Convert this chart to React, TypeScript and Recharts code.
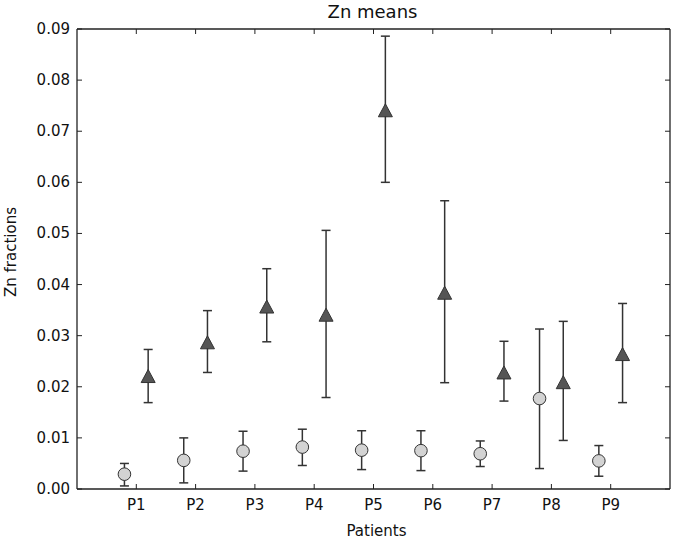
import React from 'react';
import { ScatterChart, Scatter, XAxis, YAxis, ErrorBar } from 'recharts';

const PATIENTS = ['P1', 'P2', 'P3', 'P4', 'P5', 'P6', 'P7', 'P8', 'P9'];
const X_TICKS = [1, 2, 3, 4, 5, 6, 7, 8, 9];
const Y_TICKS = [0, 0.01, 0.02, 0.03, 0.04, 0.05, 0.06, 0.07, 0.08, 0.09];

// light circles (left of each patient)
const circleMeans = [0.0029, 0.0056, 0.0074, 0.0082, 0.0076, 0.0075, 0.0069, 0.0177, 0.0055];
const circleLow = [0.0006, 0.0012, 0.0035, 0.0046, 0.0038, 0.0036, 0.0044, 0.004, 0.0025];
const circleHigh = [0.005, 0.01, 0.0113, 0.0117, 0.0114, 0.0114, 0.0094, 0.0313, 0.0085];

// dark triangles (right of each patient)
const triMeans = [0.0221, 0.0287, 0.0357, 0.0341, 0.0741, 0.0384, 0.0228, 0.0209, 0.0264];
const triLow = [0.0169, 0.0228, 0.0288, 0.0179, 0.06, 0.0208, 0.0172, 0.0095, 0.0169];
const triHigh = [0.0273, 0.0349, 0.0431, 0.0506, 0.0886, 0.0564, 0.0289, 0.0328, 0.0363];

const OFFSET = 0.2;
const FONT = '"DejaVu Sans", sans-serif';
const AXIS = '#222';
const TICK = 5;

const circleData = PATIENTS.map((p, i) => ({
  x: i + 1 - OFFSET,
  y: circleMeans[i],
  err: [circleMeans[i] - circleLow[i], circleHigh[i] - circleMeans[i]],
}));

const triData = PATIENTS.map((p, i) => ({
  x: i + 1 + OFFSET,
  y: triMeans[i],
  err: [triMeans[i] - triLow[i], triHigh[i] - triMeans[i]],
}));

const Circle = (props: any) => (
  <circle cx={props.cx} cy={props.cy} r={6.3} fill="#d3d3d3" stroke="#333" strokeWidth={1} />
);

const Triangle = (props: any) => {
  const { cx, cy } = props;
  const d = `M${cx},${cy - 6.5} L${cx + 7},${cy + 6.5} L${cx - 7},${cy + 6.5} Z`;
  return <path d={d} fill="#555" stroke="#333" strokeWidth={1} />;
};

const BottomTick = ({ x, y, payload }: any) => (
  <g>
    <line x1={x} y1={y} x2={x} y2={y - TICK} stroke={AXIS} strokeWidth={1} />
    <text x={x} y={y + 21} textAnchor="middle" fontSize={15} fontFamily={FONT} fill="#111">
      {PATIENTS[payload.value - 1]}
    </text>
  </g>
);

const LeftTick = ({ x, y, payload }: any) => (
  <g>
    <line x1={x} y1={y} x2={x + TICK} y2={y} stroke={AXIS} strokeWidth={1} />
    <text x={x - 7} y={y + 5} textAnchor="end" fontSize={15} fontFamily={FONT} fill="#111">
      {payload.value.toFixed(2)}
    </text>
  </g>
);

const TopTick = ({ x, y }: any) => (
  <line x1={x} y1={y} x2={x} y2={y + TICK} stroke={AXIS} strokeWidth={1} />
);

const RightTick = ({ x, y }: any) => (
  <line x1={x} y1={y} x2={x - TICK} y2={y} stroke={AXIS} strokeWidth={1} />
);

export default function App() {
  return (
    <div style={{ position: 'absolute', left: 0, top: 0, background: '#fff' }}>
      <ScatterChart width={675} height={540} margin={{ top: 28, right: 4, bottom: 21, left: 7 }}>
        <XAxis
          type="number"
          dataKey="x"
          domain={[0, 10]}
          ticks={X_TICKS}
          allowDataOverflow
          height={30}
          tickSize={0}
          tickMargin={0}
          tickLine={false}
          tick={<BottomTick />}
          axisLine={{ stroke: AXIS, strokeWidth: 1.3 }}
          label={{
            content: ({ viewBox }: any) => (
              <text
                x={viewBox.x + viewBox.width / 2 + 3}
                y={536}
                textAnchor="middle"
                fontSize={15}
                fontFamily={FONT}
                fill="#111"
              >
                Patients
              </text>
            ),
          }}
        />
        <XAxis
          xAxisId="top"
          orientation="top"
          type="number"
          dataKey="x"
          domain={[0, 10]}
          ticks={X_TICKS}
          allowDataOverflow
          height={1}
          tickSize={0}
          tickMargin={0}
          tickLine={false}
          tick={<TopTick />}
          axisLine={{ stroke: AXIS, strokeWidth: 1.3 }}
          label={{
            content: ({ viewBox }: any) => (
              <text
                x={viewBox.x + viewBox.width / 2 - 1}
                y={18}
                textAnchor="middle"
                fontSize={18}
                fontFamily={FONT}
                fill="#111"
              >
                Zn means
              </text>
            ),
          }}
        />
        <YAxis
          type="number"
          dataKey="y"
          domain={[0, 0.09]}
          ticks={Y_TICKS}
          allowDataOverflow
          width={70}
          tickSize={0}
          tickMargin={0}
          tickLine={false}
          tick={<LeftTick />}
          axisLine={{ stroke: AXIS, strokeWidth: 1.3 }}
          label={{
            content: ({ viewBox }: any) => {
              const cx = viewBox.x + 4;
              const cy = viewBox.y + viewBox.height / 2 - 7;
              return (
                <text
                  x={cx}
                  y={cy}
                  transform={`rotate(-90 ${cx} ${cy})`}
                  textAnchor="middle"
                  dominantBaseline="central"
                  fontSize={15}
                  fontFamily={FONT}
                  fill="#111"
                >
                  Zn fractions
                </text>
              );
            },
          }}
        />
        <YAxis
          yAxisId="right"
          orientation="right"
          type="number"
          dataKey="y"
          domain={[0, 0.09]}
          ticks={Y_TICKS}
          allowDataOverflow
          width={1}
          tickSize={0}
          tickMargin={0}
          tickLine={false}
          tick={<RightTick />}
          axisLine={{ stroke: AXIS, strokeWidth: 1.3 }}
        />
        <Scatter data={circleData} shape={<Circle />} isAnimationActive={false}>
          <ErrorBar dataKey="err" direction="y" width={4.5} stroke="#333" strokeWidth={1.5} />
        </Scatter>
        <Scatter
          data={triData}
          xAxisId="top"
          yAxisId="right"
          shape={<Triangle />}
          isAnimationActive={false}
        >
          <ErrorBar dataKey="err" direction="y" width={4.5} stroke="#333" strokeWidth={1.5} />
        </Scatter>
      </ScatterChart>
    </div>
  );
}
